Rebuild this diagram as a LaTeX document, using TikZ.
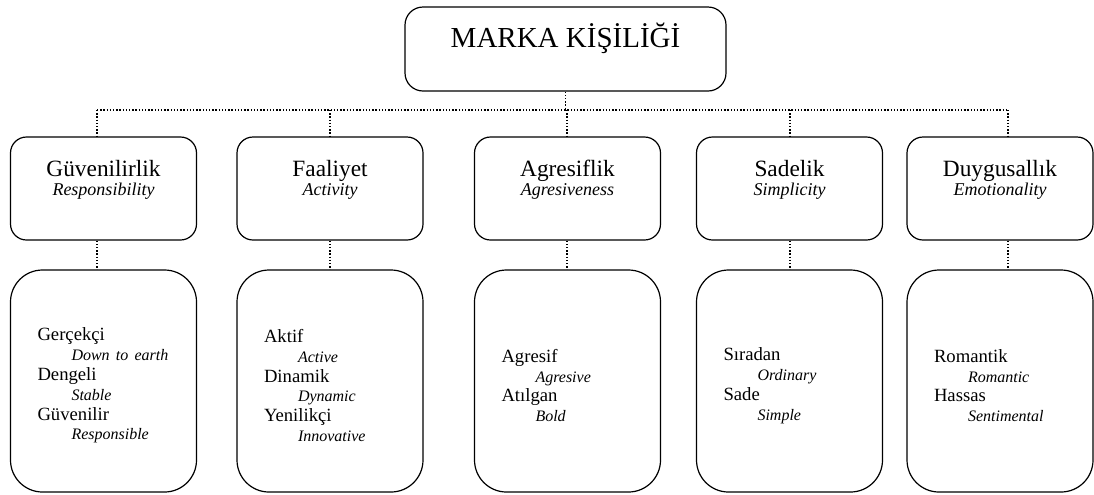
\documentclass[tikz,border=0pt]{standalone}
\usepackage{fontspec}
\setmainfont{Liberation Serif}
\newcommand\enline[1]{\\\hspace*{25.5pt}{\fontsize{12}{14.85}\selectfont\itshape #1}}
\begin{document}
\begin{tikzpicture}[x=0.75pt,y=-0.75pt,
  topbox/.style={draw, line width=0.9pt, rounded corners=13.5pt, minimum width=240.75pt, minimum height=63pt, inner sep=0pt},
  catbox/.style={draw, line width=0.9pt, rounded corners=12pt, minimum width=139.5pt, minimum height=77.25pt, inner sep=0pt},
  itembox/.style={draw, line width=0.9pt, rounded corners=24pt, minimum height=166.5pt, inner xsep=20.25pt, inner ysep=0pt, text width=99pt, align=left, font=\fontsize{14}{14.85}\selectfont, execute at begin node={\rule{0pt}{16.5pt}}},
  toptitle/.style={anchor=base, inner sep=0pt, font=\fontsize{21.75}{24}\selectfont},
  cattitle/.style={anchor=base, inner sep=0pt, font=\fontsize{17.5}{20}\selectfont},
  catsub/.style={anchor=base, inner sep=0pt, font=\fontsize{13.5}{16}\selectfont\itshape},
  conn/.style={line width=1pt, dash pattern=on 1pt off 1.4pt}]
\useasboundingbox (0,0) rectangle (1094,494);

% top
\node[topbox] (top) at (565.5,49) {};
\node[toptitle] (toptxt) at (565.5,47) {MARKA KİŞİLİĞİ};

% category boxes
\node[catbox] (k1) at (103.5,188.5) {};
\node[catbox] (k2) at (330,188.5) {};
\node[catbox] (k3) at (567.5,188.5) {};
\node[catbox] (k4) at (789.5,188.5) {};
\node[catbox] (k5) at (1000,188.5) {};

\node[cattitle] (k1t) at (103.5,176) {Güvenilirlik};
\node[catsub]   (k1s) at (103.5,195) {Responsibility};
\node[cattitle] (k2t) at (330,176) {Faaliyet};
\node[catsub]   (k2s) at (330,195) {Activity};
\node[cattitle] (k3t) at (567.5,176) {Agresiflik};
\node[catsub]   (k3s) at (567.5,195) {Agresiveness};
\node[cattitle] (k4t) at (789.5,176) {Sadelik};
\node[catsub]   (k4s) at (789.5,195) {Simplicity};
\node[cattitle] (k5t) at (1000,176) {Duygusallık};
\node[catsub]   (k5s) at (1000,195) {Emotionality};

% item boxes
\node[itembox] (d1) at (103.5,381) {Gerçekçi\enline{Down to earth}\\Dengeli\enline{Stable}\\Güvenilir\enline{Responsible}};
\node[itembox] (d2) at (330,381) {Aktif\enline{Active}\\Dinamik\enline{Dynamic}\\Yenilikçi\enline{Innovative}};
\node[itembox] (d3) at (567.5,381) {Agresif\enline{Agresive}\\Atılgan\enline{Bold}};
\node[itembox] (d4) at (789.5,381) {Sıradan\enline{Ordinary}\\Sade\enline{Simple}};
\node[itembox] (d5) at (1000,381) {Romantik\enline{Romantic}\\Hassas\enline{Sentimental}};

% connectors
\coordinate (c1) at (97,110);
\coordinate (c2) at (330,110);
\coordinate (c3) at (567,110);
\coordinate (c4) at (790,110);
\coordinate (c5) at (1008,110);
\draw[conn] (top.south) -- (top.south |- c3);
\draw[conn] (c1) -- (c5);
\foreach \i in {1,...,5}{
  \draw[conn] (c\i) -- (c\i |- k\i.north);
  \draw[conn] (c\i |- k\i.south) -- (c\i |- d\i.north);
}
\end{tikzpicture}
\end{document}
